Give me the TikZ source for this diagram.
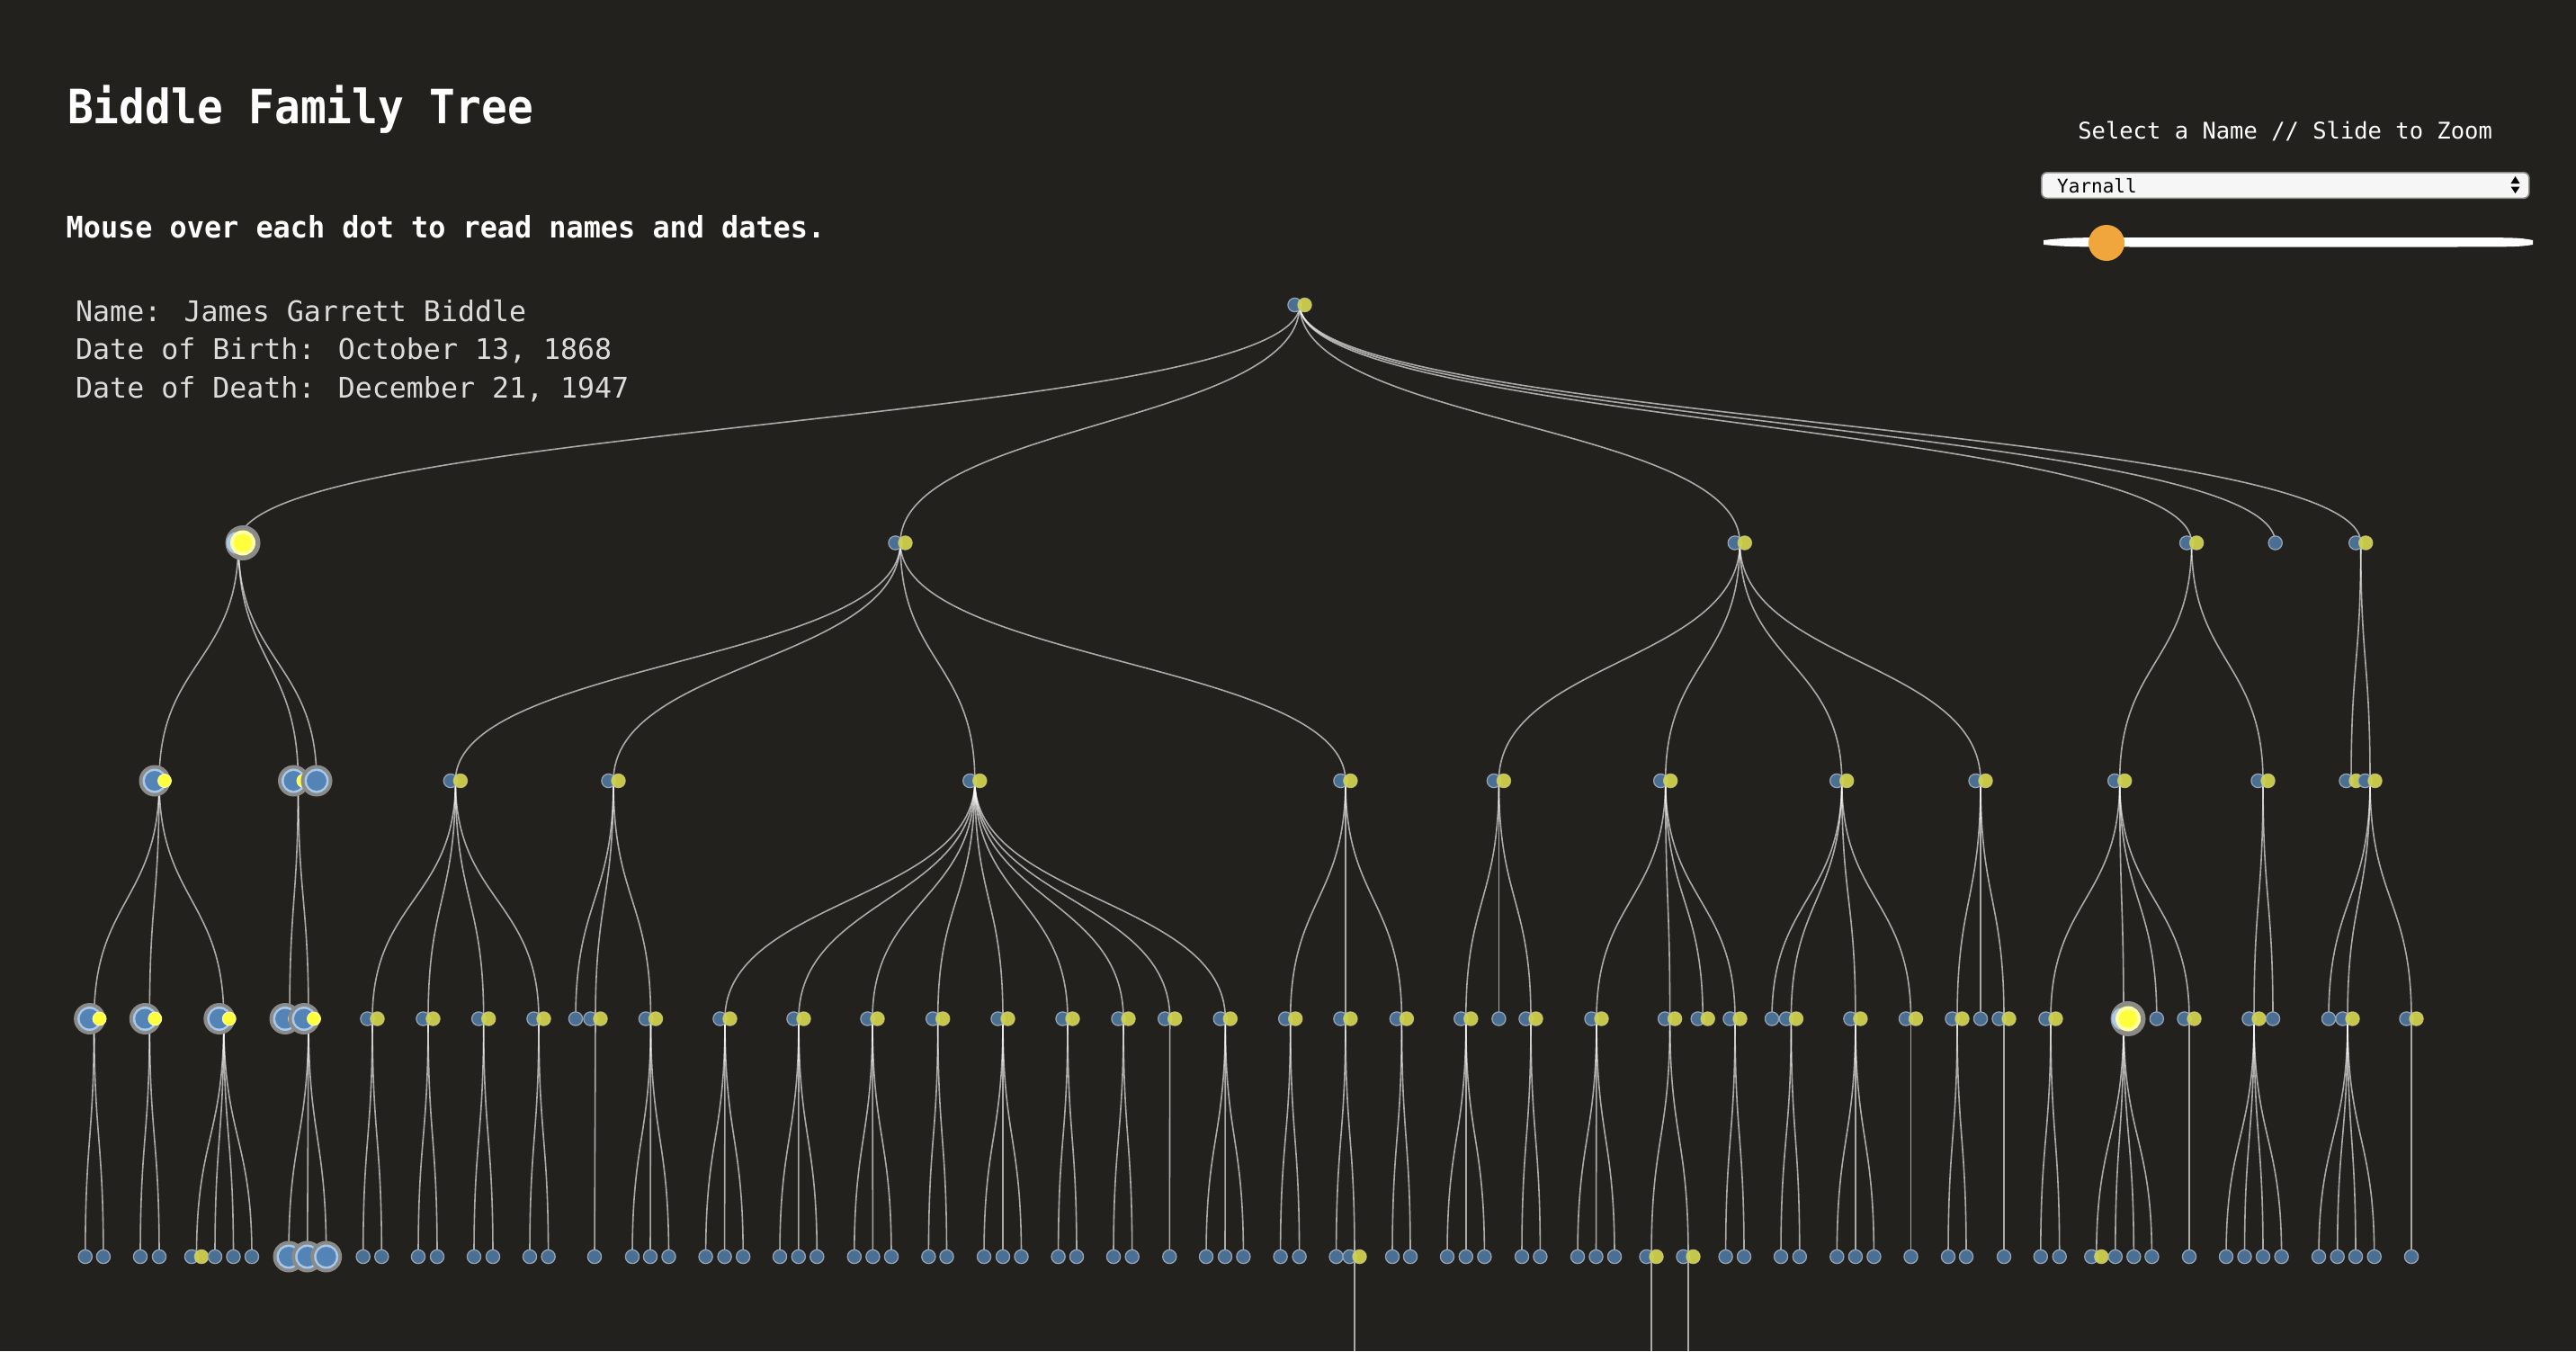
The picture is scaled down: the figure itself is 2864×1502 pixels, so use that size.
\documentclass[tikz,border=0pt]{standalone}
\usepackage{fontspec}
\setmainfont{DejaVu Sans Mono}
\newfontfamily\titlefont{DejaVu Sans Mono}[FakeStretch=0.91]
\newfontfamily\hintfont{DejaVu Sans Mono}[FakeStretch=0.965]
\usetikzlibrary{calc}
\pgfdeclarelayer{backdrop}
\pgfdeclarelayer{links}
\pgfsetlayers{backdrop,links,main}

\definecolor{bg}{RGB}{34,33,30}
\definecolor{dotblue}{RGB}{74,111,148}
\definecolor{dotrim}{RGB}{150,162,175}
\definecolor{dotyel}{RGB}{212,214,76}
\definecolor{yelrim}{RGB}{205,205,125}
\definecolor{hiblue}{RGB}{84,132,182}
\definecolor{hiring}{RGB}{170,200,232}
\definecolor{halo}{RGB}{138,138,136}
\definecolor{hiyel}{RGB}{255,255,60}
\definecolor{paleyel}{RGB}{255,255,165}
\definecolor{sliderorange}{RGB}{240,166,60}
\definecolor{infotext}{RGB}{220,220,218}
\definecolor{menufill}{RGB}{246,246,246}
\definecolor{menurim}{RGB}{140,140,140}

\tikzset{
  kin/.style={draw=white, draw opacity=0.62, line width=1.6pt},
  bluedot/.style={fill=dotblue, draw=dotrim, line width=1.3pt},
  yeldot/.style={fill=dotyel, fill opacity=0.92, draw=yelrim, draw opacity=0.8, line width=1.3pt},
  hidot/.style={fill=hiyel, draw=paleyel, line width=1pt},
  textline/.style={anchor=base west, inner sep=0pt},
}

% dot painters: couple, single, highlighted blue couple, highlighted blue single, highlighted yellow couple
\newcommand\dotcp[1]{%
  \path[bluedot] ([xshift=-5.5pt]#1) circle[radius=7.6];
  \path[yeldot] ([xshift=5.5pt]#1) circle[radius=7.6];}
\newcommand\dotsg[1]{\path[bluedot] (#1) circle[radius=7.6];}
\newcommand\bigblue[2]{%
  \fill[halo] ([xshift=#2pt]#1) circle[radius=17.5];
  \fill[hiring] ([xshift=#2pt]#1) circle[radius=13.5];
  \fill[hiblue] ([xshift=#2pt]#1) circle[radius=11];}
\newcommand\dothb[1]{\bigblue{#1}{-5}\path[hidot] ([xshift=6pt]#1) circle[radius=7.4];}
\newcommand\doths[1]{\bigblue{#1}{0}}
\newcommand\dothy[1]{%
  \fill[halo] ([xshift=5pt]#1) circle[radius=19.5];
  \fill[hiring] ([xshift=-1pt]#1) circle[radius=12.5];
  \fill[paleyel] ([xshift=5pt]#1) circle[radius=14];
  \fill[hiyel] ([xshift=5pt]#1) circle[radius=10];}

% a person: name, parent, x, y, dot kind; the link to the parent goes on the lower layer
\newcommand\person[5]{%
  \coordinate (#1) at (#3,#4);
  \begin{pgfonlayer}{links}
    \path[kin] (#2) .. controls ($(#2)!0.5!(#2|-#1)$) and ($(#1)!0.5!(#1|-#2)$) .. (#1);
  \end{pgfonlayer}
  \csname dot#5\endcsname{#1}}

\begin{document}
\begin{tikzpicture}[x=1pt,y=-1pt]
\useasboundingbox (0,0) rectangle (2864,1502);
\begin{pgfonlayer}{backdrop}
  \fill[bg] (0,0) rectangle (2864,1502);
\end{pgfonlayer}

% header texts
\node[textline, text=white, font=\titlefont\bfseries\fontsize{52.5}{60}\selectfont] (title) at (75,137) {Biddle Family Tree};
\node[textline, text=white, font=\hintfont\bfseries\fontsize{33}{40}\selectfont] (hint) at (73.5,264) {Mouse over each dot to read names and dates.};
\node[textline, text=infotext, font=\fontsize{31.6}{38}\selectfont] (infoname) at (84,357) {Name: James Garrett Biddle};
\node[textline, text=infotext, font=\fontsize{31.6}{38}\selectfont] (infobirth) at (84,399.5) {Date of Birth: October 13, 1868};
\node[textline, text=infotext, font=\fontsize{31.6}{38}\selectfont] (infodeath) at (84,442) {Date of Death: December 21, 1947};

% controls
\node[anchor=base, inner sep=0pt, text=white, font=\fontsize{25.5}{30}\selectfont] (selectlabel) at (2540.6,154) {Select a Name // Slide to Zoom};
\node[draw=menurim, fill=menufill, line width=1.6pt, rounded corners=6pt, anchor=north west,
      minimum width=542pt, minimum height=28.5pt, inner sep=0pt] (menu) at (2269,191) {};
\node[textline, text=black, font=\fontsize{21}{25}\selectfont] (menuname) at (2287,214.5) {Yarnall};
\fill[black] (2791.5,204) -- (2801.5,204) -- (2796.5,196) -- cycle;
\fill[black] (2791.5,207.5) -- (2801.5,207.5) -- (2796.5,215) -- cycle;
\fill[white] (2272,267) .. controls (2300,264) .. (2400,264) -- (2700,264)
  .. controls (2800,264) .. (2816,267) -- (2816,272) .. controls (2800,274.5) .. (2700,274.5)
  -- (2400,274.5) .. controls (2300,274.5) .. (2272,272) -- cycle;
\node[circle, fill=sliderorange, minimum size=40pt, inner sep=0pt] (knob) at (2342,270) {};

% root
\coordinate (r) at (1445,339);
\dotcp{r}

% generation 1
\person{a}{r}{265}{603.5}{hy}
\person{b}{r}{1001}{603.5}{cp}
\person{c}{r}{1934.3}{603.5}{cp}
\person{d}{r}{2436.6}{603.5}{cp}
\person{e}{r}{2529.7}{603.5}{sg}
\person{f}{r}{2624.7}{603.5}{cp}

% generation 2
\person{a1}{a}{177}{868}{hb}
\person{a2}{a}{331.5}{868}{hb}
\person{a3}{a}{352}{868}{hs}
\person{b1}{b}{506.4}{868}{cp}
\person{b2}{b}{682}{868}{cp}
\person{b3}{b}{1083.8}{868}{cp}
\person{b4}{b}{1495.9}{868}{cp}
\person{c1}{c}{1666.4}{868}{cp}
\person{c2}{c}{1851.7}{868}{cp}
\person{c3}{c}{2047.7}{868}{cp}
\person{c4}{c}{2202}{868}{cp}
\person{d1}{d}{2356.7}{868}{cp}
\person{d2}{d}{2516}{868}{cp}
\person{f1}{f}{2614}{868}{cp}
\person{f2}{f}{2635}{868}{cp}

% generation 3
\foreach \nm/\p/\x/\k in {
  a1a/a1/104.6/hb, a1b/a1/166.3/hb, a1c/a1/248.8/hb,
  a2a/a2/322/hb, a2b/a2/343/hb,
  b1a/b1/414/cp, b1b/b1/476/cp, b1c/b1/537.7/cp, b1d/b1/599/cp,
  b2a/b2/640/sg, b2b/b2/662/cp, b2c/b2/723.5/cp,
  b3a/b3/806/cp, b3b/b3/888/cp, b3c/b3/970/cp, b3d/b3/1042.7/cp, b3e/b3/1115/cp,
  b3f/b3/1187/cp, b3g/b3/1249/cp, b3h/b3/1300.7/cp, b3i/b3/1362.3/cp,
  b4a/b4/1434.7/cp, b4b/b4/1495.9/cp, b4c/b4/1558.4/cp,
  c1a/c1/1629.8/cp, c1b/c1/1666.4/sg, c1c/c1/1702/cp,
  c2a/c2/1775/cp, c2b/c2/1856.6/cp, c2c/c2/1893.2/cp, c2d/c2/1929/cp,
  c3a/c3/1970/sg, c3b/c3/1991.4/cp, c3c/c3/2062.9/cp, c3d/c3/2124.5/cp,
  c4a/c4/2176/cp, c4b/c4/2202/sg, c4c/c4/2228/cp,
  d1a/d1/2280/cp, d1b/d1/2361/hy, d1c/d1/2397.8/sg, d1d/d1/2434/cp,
  d2a/d2/2506/cp, d2b/d2/2527/sg,
  f2a/f2/2589/sg, f2b/f2/2610/cp, f2c/f2/2681/cp}
  {\person{\nm}{\p}{\x}{1132.5}{\k}}

% links that run on below the lower edge
\coordinate (b4b2end) at (1506,1540);
\coordinate (c2b1end) at (1836,1540);
\coordinate (c2b2end) at (1877,1540);

% generation 4
\foreach \p/\n/\x/\k in {
  a1a/1/94.8/sg, a1a/2/114.9/sg,
  a1b/1/156/sg, a1b/2/177/sg,
  a1c/1/218.5/cp, a1c/2/239/sg, a1c/3/259.5/sg, a1c/4/280/sg,
  a2b/1/321/hs, a2b/2/341.7/hs, a2b/3/362.7/hs,
  b1a/1/403.7/sg, b1a/2/424.3/sg,
  b1b/1/465/sg, b1b/2/486/sg,
  b1c/1/527/sg, b1c/2/548/sg,
  b1d/1/589/sg, b1d/2/609.6/sg,
  b2b/1/661/sg,
  b2c/1/703/sg, b2c/2/723/sg, b2c/3/743.5/sg,
  b3a/1/784.6/sg, b3a/2/805.6/sg, b3a/3/826.2/sg,
  b3b/1/867/sg, b3b/2/887.8/sg, b3b/3/908.3/sg,
  b3c/1/949.8/sg, b3c/2/970.4/sg, b3c/3/991/sg,
  b3d/1/1032.4/sg, b3d/2/1052.5/sg,
  b3e/1/1094/sg, b3e/2/1115/sg, b3e/3/1135.5/sg,
  b3f/1/1176.6/sg, b3f/2/1197/sg,
  b3g/1/1238/sg, b3g/2/1258.7/sg,
  b3h/1/1300.3/sg,
  b3i/1/1341/sg, b3i/2/1362/sg, b3i/3/1382.4/sg,
  b4a/1/1423.6/sg, b4a/2/1444.6/sg,
  b4b/1/1485.6/sg, b4b/2/1506/cp,
  b4c/1/1548/sg, b4c/2/1568/sg,
  c1a/1/1609/sg, c1a/2/1629.8/sg, c1a/3/1650.4/sg,
  c1c/1/1692/sg, c1c/2/1712.4/sg,
  c2a/1/1754/sg, c2a/2/1774.5/sg, c2a/3/1795/sg,
  c2b/1/1836/cp, c2b/2/1877/cp,
  c2d/1/1918.6/sg, c2d/2/1939/sg,
  c3b/1/1980/sg, c3b/2/2000.8/sg,
  c3c/1/2042.3/sg, c3c/2/2062.9/sg, c3c/3/2083.4/sg,
  c3d/1/2124.5/sg,
  c4a/1/2166/sg, c4a/2/2186/sg,
  c4c/1/2228/sg,
  d1a/1/2268.8/sg, d1a/2/2289.7/sg,
  d1b/1/2330.8/cp, d1b/2/2351.8/sg, d1b/3/2372.3/sg, d1b/4/2392.4/sg,
  d1d/1/2434/sg,
  d2a/1/2475/sg, d2a/2/2495.5/sg, d2a/3/2516/sg, d2a/4/2536.6/sg,
  f2b/1/2578/sg, f2b/2/2598.7/sg, f2b/3/2619/sg, f2b/4/2639.7/sg,
  f2c/1/2681/sg}
  {\person{\p\n}{\p}{\x}{1397}{\k}}

\begin{pgfonlayer}{links}
  \path[kin] (b4b2) -- (b4b2end);
  \path[kin] (c2b1) -- (c2b1end);
  \path[kin] (c2b2) -- (c2b2end);
\end{pgfonlayer}
\end{tikzpicture}
\end{document}
